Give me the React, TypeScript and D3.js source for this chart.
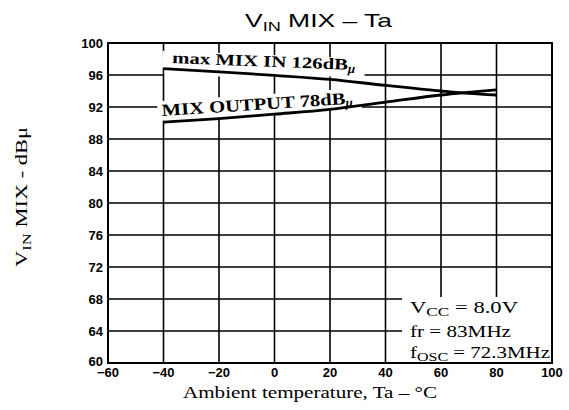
import React from "react";
import * as d3 from "d3";

const xTicks = [-60, -40, -20, 0, 20, 40, 60, 80, 100];
const yTicks = [60, 64, 68, 72, 76, 80, 84, 88, 92, 96, 100];

const maxMixTemp = [-40, -20, 0, 20, 40, 60, 70, 80];
const maxMixVal = [96.8, 96.4, 95.95, 95.45, 94.7, 94.0, 93.7, 93.5];

const mixOutTemp = [-40, -20, 0, 20, 40, 60, 80];
const mixOutVal = [90.1, 90.55, 91.1, 91.7, 92.6, 93.5, 94.15];

const W = 569;
const H = 410;

export default function App() {
  const x = d3.scaleLinear().domain([-60, 100]).range([108, 552]);
  const y = d3.scaleLinear().domain([60, 100]).range([363, 43]);

  const line = d3
    .line<[number, number]>()
    .x((d) => x(d[0]))
    .y((d) => y(d[1]))
    .curve(d3.curveMonotoneX);

  const maxData: [number, number][] = maxMixTemp.map((t, i) => [t, maxMixVal[i]]);
  const outData: [number, number][] = mixOutTemp.map((t, i) => [t, mixOutVal[i]]);

  const sans = "'Liberation Sans', Arial, sans-serif";
  const serif = "'Liberation Serif', 'Times New Roman', serif";

  return (
    <svg
      width={W}
      height={H}
      style={{ position: "absolute", left: 0, top: 0, background: "#fff" }}
    >
      <rect x={0} y={0} width={W} height={H} fill="#fff" />
      {/* grid */}
      {xTicks.slice(1, -1).map((t) => (
        <line key={"vx" + t} x1={x(t)} x2={x(t)} y1={y(100)} y2={y(60)} stroke="#000" strokeWidth={1.6} />
      ))}
      {yTicks.slice(1, -1).map((t) => (
        <line key={"hy" + t} x1={x(-60)} x2={x(100)} y1={y(t)} y2={y(t)} stroke="#000" strokeWidth={1.6} />
      ))}

      {/* label masks */}
      <g transform={`translate(170,63) rotate(2.2)`}>
        <rect x={-8} y={-12} width={200} height={17} fill="#fff" />
      </g>
      <rect x={x(-40) + 1} y={y(96.6)} width={200} height={y(96) - y(96.6) + 1.5} fill="#fff" />
      <g transform={`translate(160,116) rotate(-3.7)`}>
        <rect x={-2} y={-15} width={204} height={20} fill="#fff" />
      </g>
      {/* annotation mask */}
      <rect x={402} y={297} width={x(100) - 402} height={y(60) - 297} fill="#fff" />

      {/* frame */}
      <rect x={x(-60)} y={y(100)} width={x(100) - x(-60)} height={y(60) - y(100)} fill="none" stroke="#000" strokeWidth={2} />

      {/* curves */}
      <path d={line(maxData) || ""} fill="none" stroke="#000" strokeWidth={2.8} />
      <path d={line(outData) || ""} fill="none" stroke="#000" strokeWidth={2.8} />

      {/* curve labels */}
      <g transform={`translate(172,63) rotate(2.2)`}>
        <text x={0} y={0} fontFamily={serif} fontSize={16} fontWeight="bold" fill="#000">
          <tspan textLength={176} lengthAdjust="spacingAndGlyphs">max MIX IN 126dB</tspan>
          <tspan fontStyle="italic" fontSize={13} dy={3}>μ</tspan>
        </text>
      </g>
      <g transform={`translate(162,116) rotate(-3.7)`}>
        <text x={0} y={0} fontFamily={serif} fontSize={17} fontWeight="bold" fill="#000">
          <tspan textLength={184} lengthAdjust="spacingAndGlyphs">MIX OUTPUT 78dB</tspan>
          <tspan fontStyle="italic" fontSize={13} dy={3}>μ</tspan>
        </text>
      </g>

      {/* y tick labels */}
      {yTicks.map((t) => (
        <text key={"yl" + t} x={103} y={t === 60 ? y(t) - 2 : y(t)} dy="0.35em" textAnchor="end" fontFamily={sans} fontWeight="bold" fontSize={13} fill="#000">
          {t}
        </text>
      ))}
      {/* x tick labels */}
      {xTicks.map((t) => (
        <text key={"xl" + t} x={x(t)} y={377} textAnchor="middle" fontFamily={sans} fontWeight="bold" fontSize={13} fill="#000">
          {t < 0 ? "−" + Math.abs(t) : t}
        </text>
      ))}

      {/* title */}
      <text x={245} y={27} fontFamily={sans} fontSize={19} fill="#000" textLength={147} lengthAdjust="spacingAndGlyphs">
        V<tspan fontSize={13} dy={4}>IN</tspan>
        <tspan dy={-4}> MIX – Ta</tspan>
      </text>

      {/* x axis title */}
      <text x={310} y={398} textAnchor="middle" fontFamily={serif} fontSize={16} fill="#000" textLength={254} lengthAdjust="spacingAndGlyphs">
        Ambient temperature, Ta – °C
      </text>

      {/* y axis title */}
      <g transform="translate(27,197) rotate(-90)">
        <text x={0} y={0} textAnchor="middle" fontFamily={serif} fontSize={16} fill="#000" textLength={140} lengthAdjust="spacingAndGlyphs">
          V<tspan fontSize={12} dy={4}>IN</tspan>
          <tspan dy={-4}> MIX - dBμ</tspan>
        </text>
      </g>

      {/* annotation */}
      <text x={410} y={313} fontFamily={serif} fontSize={17} fill="#000" textLength={108} lengthAdjust="spacingAndGlyphs">
        V<tspan fontSize={13} dy={3}>CC</tspan>
        <tspan dy={-3}>{" = 8.0V"}</tspan>
      </text>
      <text x={410} y={337} fontFamily={serif} fontSize={17} fill="#000" textLength={101} lengthAdjust="spacingAndGlyphs">
        {"fr = 83MHz"}
      </text>
      <text x={410} y={358} fontFamily={serif} fontSize={17} fill="#000" textLength={140} lengthAdjust="spacingAndGlyphs">
        f<tspan fontSize={13} dy={3}>OSC</tspan>
        <tspan dy={-3}>{" = 72.3MHz"}</tspan>
      </text>
    </svg>
  );
}
